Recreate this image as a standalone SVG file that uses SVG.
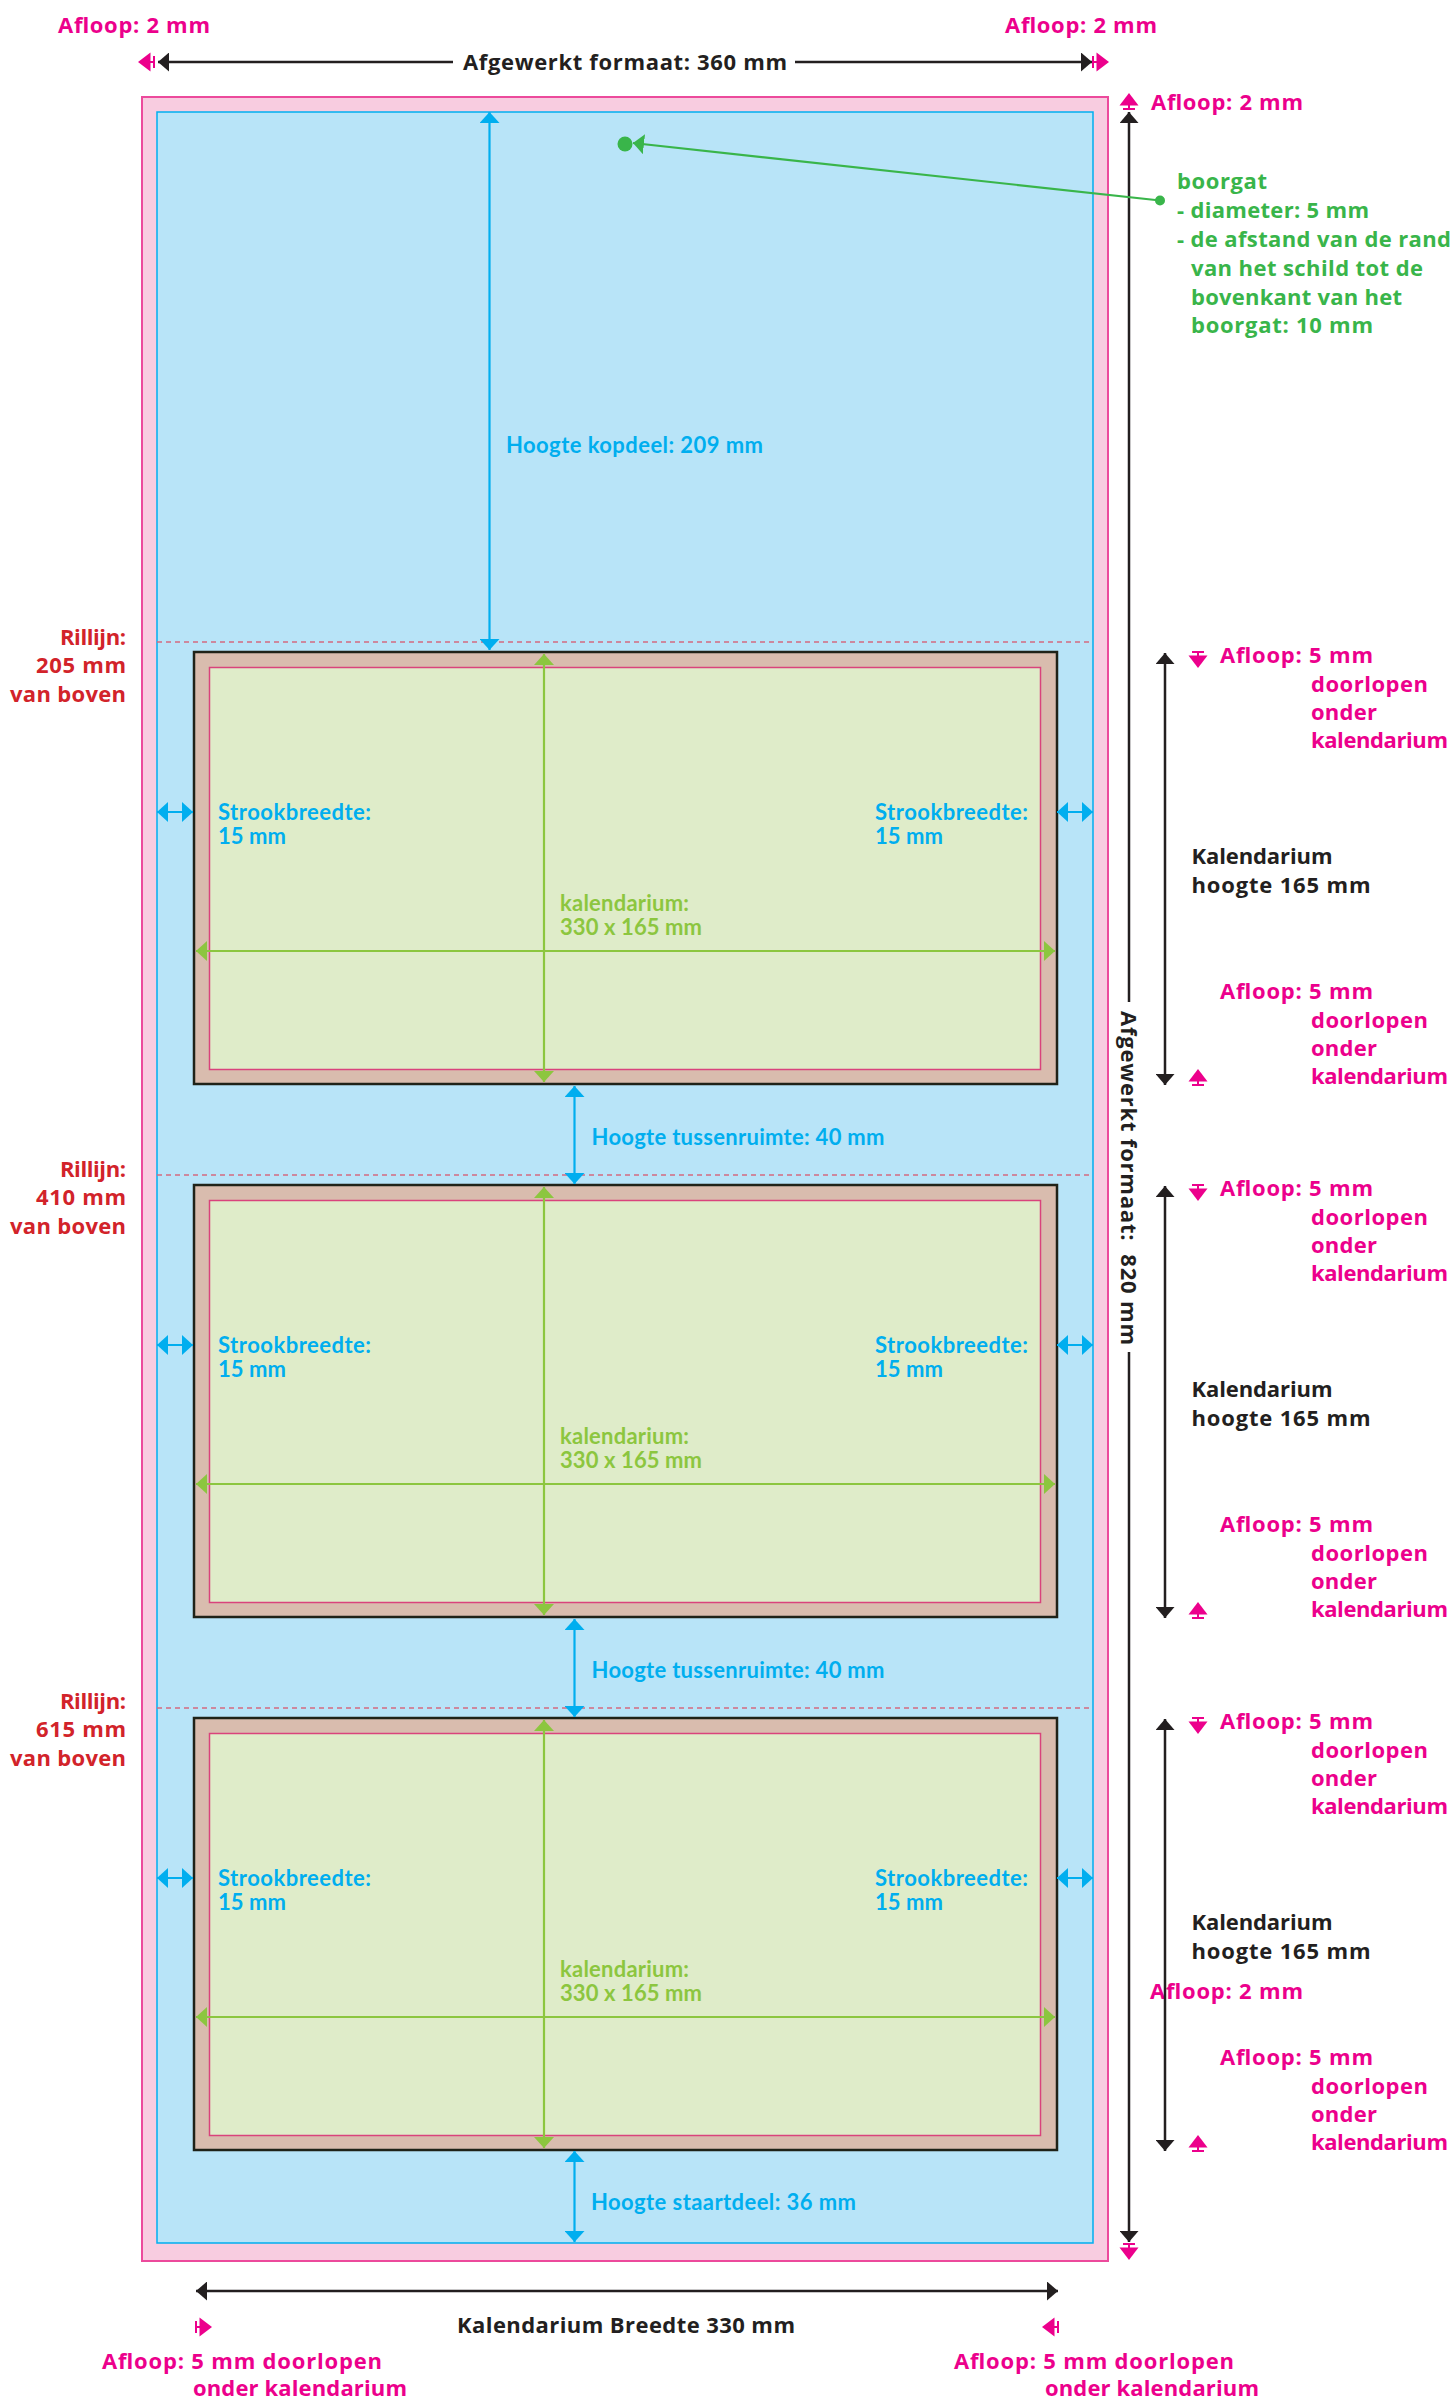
<svg xmlns="http://www.w3.org/2000/svg" width="1454" height="2398" viewBox="0 0 1454 2398">
<style>
text { font-family: "Open Sans", "Noto Sans", "Liberation Sans", sans-serif; font-weight: 700; font-size: 22px; }
text.bl, text.gr { font-family: Lato, "Open Sans", "Liberation Sans", sans-serif; }
.pk { fill:#ec008c } .rd { fill:#d2232a } .bl { fill:#00aeef } .gr { fill:#8cc63f } .dg { fill:#39b54a } .bk { fill:#231f20 }
.end { text-anchor:end } .mid { text-anchor:middle }
.lbk { stroke:#231f20; stroke-width:2.5; fill:none; marker-start:url(#ah-bk); marker-end:url(#ah-bk) }
.lbk1 { stroke:#231f20; stroke-width:2.5; fill:none }
.lbl { stroke:#00aeef; stroke-width:2.2; fill:none; marker-start:url(#ah-bl); marker-end:url(#ah-bl) }
.lgr { stroke:#8cc63f; stroke-width:2.2; fill:none; marker-start:url(#ah-gr); marker-end:url(#ah-gr) }
.ldg { stroke:#39b54a; stroke-width:2.2; fill:none; marker-end:url(#ah-dg) }
.dash { stroke:#d4697f; stroke-width:1.5; stroke-dasharray:5 4; fill:none }
.outer { fill:#d9bcae; stroke:#1f2218; stroke-width:2.5 }
.inner { fill:#dfecc9; stroke:#d9437c; stroke-width:1.5 }
</style>
<defs>
<marker id="ah-bk" markerUnits="userSpaceOnUse" viewBox="0 0 11 19" markerWidth="11" markerHeight="19" refX="11" refY="9.5" orient="auto-start-reverse"><path d="M0,0 L11,9.5 L0,19 z" fill="#231f20"/></marker>
<marker id="ah-bl" markerUnits="userSpaceOnUse" viewBox="0 0 11 20" markerWidth="11" markerHeight="20" refX="11" refY="10" orient="auto-start-reverse"><path d="M0,0 L11,10 L0,20 z" fill="#00aeef"/></marker>
<marker id="ah-gr" markerUnits="userSpaceOnUse" viewBox="0 0 11 20" markerWidth="11" markerHeight="20" refX="11" refY="10" orient="auto-start-reverse"><path d="M0,0 L11,10 L0,20 z" fill="#8cc63f"/></marker>
<marker id="ah-dg" markerUnits="userSpaceOnUse" viewBox="0 0 11 20" markerWidth="11" markerHeight="20" refX="11" refY="10" orient="auto-start-reverse"><path d="M0,0 L11,10 L0,20 z" fill="#39b54a"/></marker>
<g id="bleed" fill="#ec008c"><rect x="-6" y="-1" width="12" height="2"/><rect x="-1" y="0" width="2" height="5"/><path d="M-9.5,3.5 L9.5,3.5 L0,16 z"/></g>
</defs>

<g id="sheet">
<rect x="142" y="97" width="966" height="2164" fill="#f8cce0" stroke="#ec4a9c" stroke-width="2"/>
<rect x="157" y="112" width="936" height="2131" fill="#b8e4f8" stroke="#00aeef" stroke-width="1.5"/>
</g>

<g id="rillijn-1">
<line class="dash" x1="157" y1="642" x2="1093" y2="642"/>
<text class="rd end" x="126" y="645" textLength="66">Rillijn:</text>
<text class="rd end" x="126" y="673" textLength="90">205 mm</text>
<text class="rd end" x="126" y="702" textLength="116">van boven</text>
</g>
<g id="rillijn-2">
<line class="dash" x1="157" y1="1175" x2="1093" y2="1175"/>
<text class="rd end" x="126" y="1177" textLength="66">Rillijn:</text>
<text class="rd end" x="126" y="1205" textLength="90">410 mm</text>
<text class="rd end" x="126" y="1234" textLength="116">van boven</text>
</g>
<g id="rillijn-3">
<line class="dash" x1="157" y1="1708" x2="1093" y2="1708"/>
<text class="rd end" x="126" y="1709" textLength="66">Rillijn:</text>
<text class="rd end" x="126" y="1737" textLength="90">615 mm</text>
<text class="rd end" x="126" y="1766" textLength="116">van boven</text>
</g>

<g id="kalendarium-1">
<rect class="outer" x="194" y="652" width="863" height="432"/>
<rect class="inner" x="209.5" y="667.5" width="831" height="402"/>
<text class="bl" x="218" y="820" textLength="153">Strookbreedte:</text><text class="bl" x="218" y="844" textLength="68">15 mm</text>
<text class="bl" x="875" y="820" textLength="153">Strookbreedte:</text><text class="bl" x="875" y="844" textLength="68">15 mm</text>
<text class="gr" x="560" y="911" textLength="129">kalendarium:</text><text class="gr" x="560" y="935" textLength="142">330 x 165 mm</text>
</g>
<g id="kalendarium-2">
<rect class="outer" x="194" y="1185" width="863" height="432"/>
<rect class="inner" x="209.5" y="1200.5" width="831" height="402"/>
<text class="bl" x="218" y="1353" textLength="153">Strookbreedte:</text><text class="bl" x="218" y="1377" textLength="68">15 mm</text>
<text class="bl" x="875" y="1353" textLength="153">Strookbreedte:</text><text class="bl" x="875" y="1377" textLength="68">15 mm</text>
<text class="gr" x="560" y="1444" textLength="129">kalendarium:</text><text class="gr" x="560" y="1468" textLength="142">330 x 165 mm</text>
</g>
<g id="kalendarium-3">
<rect class="outer" x="194" y="1718" width="863" height="432"/>
<rect class="inner" x="209.5" y="1733.5" width="831" height="402"/>
<text class="bl" x="218" y="1886" textLength="153">Strookbreedte:</text><text class="bl" x="218" y="1910" textLength="68">15 mm</text>
<text class="bl" x="875" y="1886" textLength="153">Strookbreedte:</text><text class="bl" x="875" y="1910" textLength="68">15 mm</text>
<text class="gr" x="560" y="1977" textLength="129">kalendarium:</text><text class="gr" x="560" y="2001" textLength="142">330 x 165 mm</text>
</g>

<g id="boorgat">
<circle cx="625" cy="144" r="7.5" fill="#39b54a"/>
<text class="dg" x="1177" y="189" textLength="90">boorgat</text>
<text class="dg" x="1177" y="218" textLength="192">- diameter: 5 mm</text>
<text class="dg" x="1177" y="247" textLength="274">- de afstand van de rand</text>
<text class="dg" x="1191" y="276" textLength="232">van het schild tot de</text>
<text class="dg" x="1191" y="305" textLength="211">bovenkant van het</text>
<text class="dg" x="1191" y="333" textLength="182">boorgat: 10 mm</text>
</g>

<g id="labels-top">
<text class="pk" x="58" y="33" textLength="152">Afloop: 2 mm</text>
<text class="pk" x="1005" y="33" textLength="152">Afloop: 2 mm</text>
<text class="bk mid" x="625" y="70" textLength="324">Afgewerkt formaat: 360 mm</text>
<text class="pk" x="1151" y="110" textLength="152">Afloop: 2 mm</text>
<text class="bk mid" transform="translate(1129,1178) rotate(90)" y="8" style="white-space:pre" textLength="334">Afgewerkt formaat:  820 mm</text>
<text class="bl" x="506" y="453" textLength="257">Hoogte kopdeel: 209 mm</text>
<text class="bl" x="591.5" y="1145" textLength="293">Hoogte tussenruimte: 40 mm</text>
<text class="bl" x="591.5" y="1678" textLength="293">Hoogte tussenruimte: 40 mm</text>
<text class="bl" x="591" y="2210" textLength="265">Hoogte staartdeel: 36 mm</text>
</g>

<g id="labels-right-1">
<text class="pk" x="1220" y="663" textLength="153">Afloop: 5 mm</text><text class="pk" x="1311" y="692" textLength="117">doorlopen</text><text class="pk" x="1311" y="720" textLength="66">onder</text><text class="pk" x="1311" y="748" textLength="137">kalendarium</text>
<text class="bk" x="1191.5" y="864" textLength="141">Kalendarium</text><text class="bk" x="1191.5" y="893" textLength="179">hoogte 165 mm</text>
<text class="pk" x="1220" y="999" textLength="153">Afloop: 5 mm</text><text class="pk" x="1311" y="1028" textLength="117">doorlopen</text><text class="pk" x="1311" y="1056" textLength="66">onder</text><text class="pk" x="1311" y="1084" textLength="137">kalendarium</text>
</g>
<g id="labels-right-2">
<text class="pk" x="1220" y="1196" textLength="153">Afloop: 5 mm</text><text class="pk" x="1311" y="1225" textLength="117">doorlopen</text><text class="pk" x="1311" y="1253" textLength="66">onder</text><text class="pk" x="1311" y="1281" textLength="137">kalendarium</text>
<text class="bk" x="1191.5" y="1397" textLength="141">Kalendarium</text><text class="bk" x="1191.5" y="1426" textLength="179">hoogte 165 mm</text>
<text class="pk" x="1220" y="1532" textLength="153">Afloop: 5 mm</text><text class="pk" x="1311" y="1561" textLength="117">doorlopen</text><text class="pk" x="1311" y="1589" textLength="66">onder</text><text class="pk" x="1311" y="1617" textLength="137">kalendarium</text>
</g>
<g id="labels-right-3">
<text class="pk" x="1220" y="1729" textLength="153">Afloop: 5 mm</text><text class="pk" x="1311" y="1758" textLength="117">doorlopen</text><text class="pk" x="1311" y="1786" textLength="66">onder</text><text class="pk" x="1311" y="1814" textLength="137">kalendarium</text>
<text class="bk" x="1191.5" y="1930" textLength="141">Kalendarium</text><text class="bk" x="1191.5" y="1959" textLength="179">hoogte 165 mm</text>
<text class="pk" x="1150" y="1999" textLength="153">Afloop: 2 mm</text>
<text class="pk" x="1220" y="2065" textLength="153">Afloop: 5 mm</text><text class="pk" x="1311" y="2094" textLength="117">doorlopen</text><text class="pk" x="1311" y="2122" textLength="66">onder</text><text class="pk" x="1311" y="2150" textLength="137">kalendarium</text>
</g>

<g id="labels-bottom">
<text class="bk mid" x="626" y="2333" textLength="338">Kalendarium Breedte 330 mm</text>
<text class="pk" x="102" y="2369" textLength="280">Afloop: 5 mm doorlopen</text>
<text class="pk" x="193" y="2396" textLength="214">onder kalendarium</text>
<text class="pk" x="954" y="2369" textLength="280">Afloop: 5 mm doorlopen</text>
<text class="pk" x="1045" y="2396" textLength="214">onder kalendarium</text>
</g>

<g id="connectors">
<line class="lbk1" x1="158" y1="62" x2="453" y2="62" marker-start="url(#ah-bk)"/>
<line class="lbk1" x1="795" y1="62" x2="1092" y2="62" marker-end="url(#ah-bk)"/>
<use href="#bleed" transform="translate(154,62) rotate(90)"/>
<use href="#bleed" transform="translate(1093,62) rotate(-90)"/>
<line class="lbk1" x1="1129" y1="112" x2="1129" y2="1002" marker-start="url(#ah-bk)"/>
<line class="lbk1" x1="1129" y1="1352" x2="1129" y2="2242" marker-end="url(#ah-bk)"/>
<use href="#bleed" transform="translate(1129,109) rotate(180)"/>
<use href="#bleed" transform="translate(1129,2244)"/>
<line class="ldg" x1="1160" y1="200.5" x2="633" y2="143"/>
<circle cx="1160" cy="200.5" r="5" fill="#39b54a"/>
<line class="lbl" x1="489.5" y1="112" x2="489.5" y2="650"/>
<line class="lbl" x1="574.5" y1="1086" x2="574.5" y2="1184"/>
<line class="lbl" x1="574.5" y1="1619" x2="574.5" y2="1717"/>
<line class="lbl" x1="574.5" y1="2151" x2="574.5" y2="2242"/>
<line class="lbl" x1="157" y1="812" x2="193" y2="812"/>
<line class="lbl" x1="1057" y1="812" x2="1093" y2="812"/>
<line class="lgr" x1="544" y1="654" x2="544" y2="1082"/>
<line class="lgr" x1="196" y1="951" x2="1055" y2="951"/>
<line class="lbk" x1="1165" y1="653" x2="1165" y2="1085"/>
<use href="#bleed" transform="translate(1198,652)"/>
<use href="#bleed" transform="translate(1198,1085) rotate(180)"/>
<line class="lbl" x1="157" y1="1345" x2="193" y2="1345"/>
<line class="lbl" x1="1057" y1="1345" x2="1093" y2="1345"/>
<line class="lgr" x1="544" y1="1187" x2="544" y2="1615"/>
<line class="lgr" x1="196" y1="1484" x2="1055" y2="1484"/>
<line class="lbk" x1="1165" y1="1186" x2="1165" y2="1618"/>
<use href="#bleed" transform="translate(1198,1185)"/>
<use href="#bleed" transform="translate(1198,1618) rotate(180)"/>
<line class="lbl" x1="157" y1="1878" x2="193" y2="1878"/>
<line class="lbl" x1="1057" y1="1878" x2="1093" y2="1878"/>
<line class="lgr" x1="544" y1="1720" x2="544" y2="2148"/>
<line class="lgr" x1="196" y1="2017" x2="1055" y2="2017"/>
<line class="lbk" x1="1165" y1="1719" x2="1165" y2="2151"/>
<use href="#bleed" transform="translate(1198,1718)"/>
<use href="#bleed" transform="translate(1198,2151) rotate(180)"/>
<line class="lbk" x1="196" y1="2291" x2="1058" y2="2291"/>
<use href="#bleed" transform="translate(196,2327) rotate(-90)"/>
<use href="#bleed" transform="translate(1058,2327) rotate(90)"/>
</g>
</svg>
